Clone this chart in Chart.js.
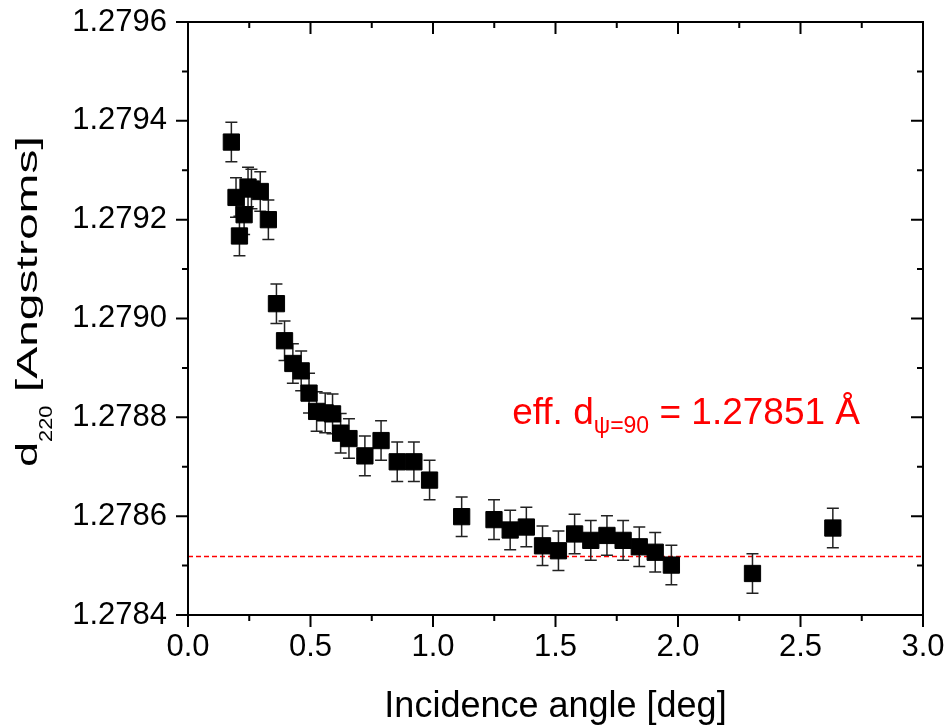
<!DOCTYPE html>
<html lang="en">
<head>
  <meta charset="UTF-8">
  <title>d220 vs incidence angle</title>
  <script src="https://cdn.jsdelivr.net/npm/chart.js"></script>
  <style>
    html, body { margin: 0; padding: 0; background: #fff; }
    #wrap { width: 948px; height: 727px; }
  </style>
</head>
<body>
  <div id="wrap"><canvas id="chart" width="948" height="727"></canvas></div>

  <script>
    // incidence angle [deg]
    const angles = [0.177, 0.196, 0.210, 0.229, 0.245, 0.259, 0.295, 0.328,
      0.361, 0.394, 0.428, 0.462, 0.494, 0.525, 0.560, 0.590, 0.623, 0.657,
      0.722, 0.788, 0.854, 0.922, 0.986, 1.117, 1.249, 1.315, 1.381, 1.447,
      1.512, 1.578, 1.644, 1.710, 1.776, 1.842, 1.907, 1.973, 2.304, 2.632];
    // d220 [Angstroms]
    const dValues = [1.279357, 1.279245, 1.279167, 1.279210, 1.279266, 1.279262, 1.279257, 1.279200,
      1.279030, 1.278955, 1.278909, 1.278894, 1.278849, 1.278812, 1.278809, 1.278807, 1.278768, 1.278757,
      1.278722, 1.278753, 1.278710, 1.278710, 1.278673, 1.278599, 1.278593, 1.278572, 1.278578, 1.278540,
      1.278530, 1.278564, 1.278551, 1.278561, 1.278551, 1.278538, 1.278527, 1.278501, 1.278484, 1.278576];
    const dErrors = [0.00004, 0.00004, 0.00004, 0.00004, 0.00004, 0.00004, 0.00004, 0.00004,
      0.00004, 0.00004, 0.00004, 0.00004, 0.00004, 0.00004, 0.00004, 0.00004, 0.00004, 0.00004,
      0.00004, 0.00004, 0.00004, 0.00004, 0.00004, 0.00004, 0.00004, 0.00004, 0.00004, 0.00004,
      0.00004, 0.00004, 0.00004, 0.00004, 0.00004, 0.00004, 0.00004, 0.00004, 0.00004, 0.00004];

    const xTicks = [0.0, 0.5, 1.0, 1.5, 2.0, 2.5, 3.0];
    const xMinor = [0.25, 0.75, 1.25, 1.75, 2.25, 2.75];
    const yTicks = [1.2784, 1.2786, 1.2788, 1.2790, 1.2792, 1.2794, 1.2796];
    const yMinor = [1.2785, 1.2787, 1.2789, 1.2791, 1.2793, 1.2795];

    const effD = 1.27852;          // dashed reference line
    const effLabel = ['eff. d', '\u03c8=90', ' = 1.27851 \u00c5'];
    const labelAt = { x: 1.323, y: 1.278787 };

    const FONT = '"Liberation Sans", Arial, sans-serif';

    function font(size) { return size + 'px ' + FONT; }

    const extras = {
      id: 'extras',
      beforeDatasetsDraw(chart) {
        const { ctx, chartArea: a } = chart;
        const xs = chart.scales.x, ys = chart.scales.y;
        ctx.save();
        // reference line
        ctx.strokeStyle = '#ff0000';
        ctx.lineWidth = 1.5;
        ctx.setLineDash([5, 3]);
        const yr = Math.round(ys.getPixelForValue(effD)) + 0.5;
        ctx.beginPath();
        ctx.moveTo(a.left, yr);
        ctx.lineTo(a.right, yr);
        ctx.stroke();
        ctx.setLineDash([]);
        // error bars
        ctx.strokeStyle = '#222';
        ctx.lineWidth = 1.5;
        angles.forEach((x, i) => {
          const px = xs.getPixelForValue(x);
          const top = ys.getPixelForValue(dValues[i] + dErrors[i]);
          const bot = ys.getPixelForValue(dValues[i] - dErrors[i]);
          ctx.beginPath();
          ctx.moveTo(px, top); ctx.lineTo(px, bot);
          ctx.moveTo(px - 6, top); ctx.lineTo(px + 6, top);
          ctx.moveTo(px - 6, bot); ctx.lineTo(px + 6, bot);
          ctx.stroke();
        });
        ctx.restore();
      },
      afterDraw(chart) {
        const { ctx, chartArea: a } = chart;
        const xs = chart.scales.x, ys = chart.scales.y;
        ctx.save();
        ctx.strokeStyle = '#000';
        ctx.lineWidth = 2;
        ctx.strokeRect(a.left, a.top, a.right - a.left, a.bottom - a.top);

        ctx.beginPath();
        const tickX = (vals, len) => vals.forEach(v => {
          const p = xs.getPixelForValue(v);
          ctx.moveTo(p, a.bottom); ctx.lineTo(p, a.bottom + len);
          ctx.moveTo(p, a.top); ctx.lineTo(p, a.top + len);
        });
        const tickY = (vals, len) => vals.forEach(v => {
          const p = ys.getPixelForValue(v);
          ctx.moveTo(a.left, p); ctx.lineTo(a.left - len, p);
          ctx.moveTo(a.right, p); ctx.lineTo(a.right - len, p);
        });
        tickX(xTicks, 12); tickX(xMinor, 6);
        tickY(yTicks, 12); tickY(yMinor, 6);
        ctx.stroke();

        // x title
        ctx.fillStyle = '#000';
        ctx.font = font(36);
        ctx.textAlign = 'center';
        ctx.textBaseline = 'alphabetic';
        ctx.fillText('Incidence angle [deg]', (a.left + a.right) / 2, 717);

        // y title, rotated, with subscript
        ctx.save();
        ctx.translate(37, 467);
        ctx.rotate(-Math.PI / 2);
        ctx.textAlign = 'left';
        let pos = 0;
        const seg = (text, size, dy, stretch) => {
          ctx.font = font(size);
          const w = ctx.measureText(text).width * stretch;
          ctx.save();
          ctx.translate(pos, dy);
          ctx.scale(stretch, 1);
          ctx.fillText(text, 0, 0);
          ctx.restore();
          pos += w;
        };
        seg('d', 30, 0, 1.5);
        seg('220', 19, 15, 1.15);
        seg(' [Angstroms]', 30, 0, 1.6);
        ctx.restore();

        // annotation
        ctx.fillStyle = '#ff0000';
        ctx.textAlign = 'left';
        let lx = xs.getPixelForValue(labelAt.x);
        const ly = ys.getPixelForValue(labelAt.y);
        ctx.font = font(37);
        ctx.fillText(effLabel[0], lx, ly);
        lx += ctx.measureText(effLabel[0]).width;
        ctx.font = font(23);
        ctx.fillText(effLabel[1], lx, ly + 9);
        lx += ctx.measureText(effLabel[1]).width;
        ctx.font = font(37);
        ctx.fillText(effLabel[2], lx, ly);
        ctx.restore();
      }
    };

    new Chart(document.getElementById('chart'), {
      type: 'scatter',
      data: {
        datasets: [{
          data: angles.map((x, i) => ({ x: x, y: dValues[i] })),
          pointStyle: 'rect',
          pointRadius: 11.5,
          backgroundColor: '#000',
          borderColor: '#000',
          borderWidth: 1
        }]
      },
      options: {
        responsive: false,
        animation: false,
        layout: { padding: { left: 0, right: 25, top: 22, bottom: 0 } },
        plugins: { legend: { display: false }, tooltip: { enabled: false } },
        scales: {
          x: {
            type: 'linear',
            min: 0, max: 3,
            grid: { display: false, drawTicks: false },
            border: { display: false },
            afterBuildTicks: s => { s.ticks = xTicks.map(v => ({ value: v })); },
            afterFit: s => { s.height = 112; s.paddingLeft = 0; s.paddingRight = 0; },
            ticks: {
              padding: 14,
              color: '#000',
              font: { family: FONT, size: 31 },
              maxRotation: 0,
              callback: v => v.toFixed(1)
            }
          },
          y: {
            type: 'linear',
            min: 1.2784, max: 1.2796,
            grid: { display: false, drawTicks: false },
            border: { display: false },
            afterBuildTicks: s => { s.ticks = yTicks.map(v => ({ value: v })); },
            afterFit: s => { s.width = 188; s.paddingTop = 0; s.paddingBottom = 0; },
            ticks: {
              padding: 21,
              color: '#000',
              font: { family: FONT, size: 31 },
              callback: v => v.toFixed(4)
            }
          }
        }
      },
      plugins: [extras]
    });
  </script>
</body>
</html>
